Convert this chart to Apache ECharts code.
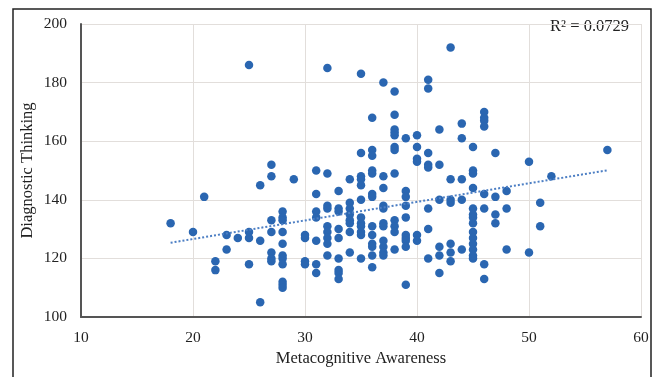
<!DOCTYPE html>
<html>
<head>
<meta charset="utf-8">
<script src="https://cdn.jsdelivr.net/npm/echarts@6/dist/echarts.min.js"></script>
<style>
  html, body { margin: 0; padding: 0; background: #fff; }
  #chart { width: 655px; height: 377px; }
</style>
</head>
<body>
<div id="chart"></div>
<script>
// metacognitive awareness score (x) and the diagnostic thinking scores read for it
var awareness = [18, 20, 21, 22, 23, 24, 25, 26, 27, 28, 29, 30, 31, 32, 33, 34, 35, 36, 37, 38, 39, 40, 41, 42, 43, 44, 45, 46, 47, 48, 50, 51, 52, 57];
var thinking = [
  [132],
  [129],
  [141],
  [119, 116],
  [128, 123],
  [127],
  [186, 129, 127, 118],
  [145, 126, 105],
  [152, 148, 133, 129, 122, 120, 119],
  [136, 134, 133, 129, 125, 121, 120, 118, 112, 111, 110],
  [147],
  [128, 127, 119, 118],
  [150, 142, 136, 134, 126, 118, 115],
  [185, 149, 138, 137, 131, 129, 127, 125, 121],
  [143, 137, 136, 130, 127, 120, 116, 115, 113],
  [147, 139, 137, 135, 133, 132, 129, 122],
  [183, 156, 148, 147, 145, 140, 134, 132, 131, 129, 128, 120],
  [168, 157, 155, 150, 149, 142, 141, 131, 128, 125, 124, 121, 117],
  [180, 148, 144, 138, 137, 132, 131, 126, 124, 122, 121],
  [177, 169, 164, 163, 162, 158, 157, 149, 133, 131, 129, 123],
  [161, 143, 141, 138, 134, 128, 127, 126, 124, 111],
  [162, 158, 154, 153, 128, 126],
  [181, 178, 156, 152, 151, 137, 130, 120],
  [164, 152, 140, 124, 121, 115],
  [192, 147, 140, 139, 125, 122, 119],
  [166, 161, 147, 140, 123],
  [158, 150, 149, 144, 137, 135, 134, 132, 129, 127, 125, 123, 121, 120],
  [170, 168, 167, 165, 142, 137, 118, 113],
  [156, 141, 135, 132],
  [143, 137, 123],
  [153, 122],
  [139, 131],
  [148],
  [157]
];
var xTicks = [10, 20, 30, 40, 50, 60];
var yTicks = [100, 120, 140, 160, 180, 200];
var r2Label = 'R² = 0.0729';

// flatten into points
var points = [];
awareness.forEach(function (x, i) {
  thinking[i].forEach(function (y) { points.push([x, y]); });
});

// least squares trend line
var n = points.length, sx = 0, sy = 0, sxx = 0, sxy = 0;
points.forEach(function (p) {
  sx += p[0]; sy += p[1]; sxx += p[0] * p[0]; sxy += p[0] * p[1];
});
var slope = (n * sxy - sx * sy) / (n * sxx - sx * sx);
var intercept = (sy - slope * sx) / n;
var xMin = awareness[0], xMax = awareness[awareness.length - 1];
var trend = [[xMin, intercept + slope * xMin], [xMax, intercept + slope * xMax]];

var serif = '"Liberation Serif", "DejaVu Serif", serif';

var myChart = echarts.init(document.getElementById('chart'));
myChart.setOption({
  backgroundColor: '#fff',
  animation: false,
  grid: { left: 81, right: 14, top: 24, bottom: 60 },
  graphic: [
    {
      type: 'rect',
      shape: { x: 13, y: 9, width: 638, height: 400 },
      style: { fill: 'none', stroke: '#222', lineWidth: 1.5 },
      silent: true
    },
    {
      type: 'text',
      right: 26,
      top: 18,
      style: { text: r2Label, font: '16.5px ' + serif, fill: '#222' }
    }
  ],
  xAxis: {
    type: 'value',
    min: xTicks[0],
    max: xTicks[xTicks.length - 1],
    interval: 10,
    name: 'Metacognitive Awareness',
    nameLocation: 'middle',
    nameGap: 33,
    nameMoveOverlap: false,
    nameTextStyle: { fontFamily: serif, fontSize: 16.5, color: '#222' },
    axisLine: { lineStyle: { color: '#555', width: 2 } },
    axisTick: { show: false },
    axisLabel: { margin: 13, fontFamily: serif, fontSize: 15.5, color: '#222' },
    splitLine: { show: true, lineStyle: { color: '#e2dedb', width: 1 } }
  },
  yAxis: {
    type: 'value',
    min: yTicks[0],
    max: yTicks[yTicks.length - 1],
    interval: 20,
    name: 'Diagnostic Thinking',
    nameLocation: 'middle',
    nameGap: 45,
    nameMoveOverlap: false,
    nameTextStyle: { fontFamily: serif, fontSize: 16.5, color: '#222' },
    axisLine: { show: true, lineStyle: { color: '#555', width: 2 } },
    axisTick: { show: false },
    axisLabel: { margin: 14, fontFamily: serif, fontSize: 15.5, color: '#222' },
    splitLine: { show: true, lineStyle: { color: '#e2dedb', width: 1 } }
  },
  series: [
    {
      type: 'scatter',
      data: points,
      symbolSize: 8.5,
      itemStyle: { color: '#2a66b1', opacity: 1 }
    },
    {
      type: 'line',
      data: trend,
      symbol: 'none',
      lineStyle: { color: '#4d7fc4', width: 2, type: [2, 2] }
    }
  ]
});
window.addEventListener('resize', function () { myChart.resize(); });
</script>
</body>
</html>
